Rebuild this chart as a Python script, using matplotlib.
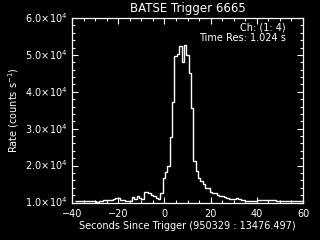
import numpy as np
import matplotlib
matplotlib.use("Agg")
import matplotlib.pyplot as plt
from matplotlib.ticker import MultipleLocator

# ---- data ----
title = "BATSE Trigger 6665"
xlabel = "Seconds Since Trigger (950329 : 13476.497)"
ylabel = r"Rate (counts s$^{-1}$)"
channel_text = "Ch: (1: 4)"
timeres_text = "Time Res: 1.024 s"

bin_start = -38.656   # left edge of first bin (s)
bin_width = 1.024     # s

rates = [
    # pre-trigger  (-38.7 .. -0.8 s)
    10450, 10450, 10450, 10450, 10450, 10450, 10450, 10450, 10450, 10250,
    10450, 10450, 10550, 10550, 10720, 10800, 10990, 11170, 11100, 10720,
    10720, 10540, 10540, 10540, 11440, 10900, 11800, 11350, 10900, 12800,
    12800, 12530, 11900, 11630, 11170, 10900, 12530,
    # main burst (-0.8 .. 12.5 s)
    16640, 18270, 19900, 27750, 37230, 49700, 50240, 52410, 48070, 52680,
    49970, 45090, 35610,
    # decay tail
    21300, 18580, 16770, 15870, 14970, 14060, 13800, 12980, 12710, 12440,
    12080, 11810, 11720, 11530, 11170, 11080, 10900, 10900, 11170, 10900,
    10720, 10720,
    # late background
    10450, 10400, 10400, 10350, 10350, 10650, 10650, 10600, 10650, 10650,
    10600, 10650, 10600, 10300, 10300, 10350, 10300, 10300, 10350, 10300,
    10300, 10350, 10300, 10300, 10300,
]

xlim = (-40, 60)
ylim = (1.0e4, 6.0e4)
xticks = [-40, -20, 0, 20, 40, 60]
yticks = [1.0e4, 2.0e4, 3.0e4, 4.0e4, 5.0e4, 6.0e4]
ytick_labels = [r"$1.0\!\times\!10^{4}$", r"$2.0\!\times\!10^{4}$",
                r"$3.0\!\times\!10^{4}$", r"$4.0\!\times\!10^{4}$",
                r"$5.0\!\times\!10^{4}$", r"$6.0\!\times\!10^{4}$"]

# ---- plot ----
fg = "white"
bg = "black"
fig = plt.figure(figsize=(3.2, 2.4), dpi=100, facecolor=bg)
ax = fig.add_axes([72/320, 1 - 202.5/240, 231/320, 184.5/240], facecolor=bg)

edges = bin_start + np.arange(len(rates) + 1) * bin_width
ax.stairs(rates, edges, color=fg, linewidth=1.0, baseline=None)

ax.set_xlim(*xlim)
ax.set_ylim(*ylim)
ax.set_xticks(xticks)
ax.set_xticklabels([str(v).replace("-", "\u2212") for v in xticks])
ax.set_yticks(yticks)
ax.set_yticklabels(ytick_labels)
ax.xaxis.set_minor_locator(MultipleLocator(5))
ax.yaxis.set_minor_locator(MultipleLocator(2000))

for s in ax.spines.values():
    s.set_color(fg)
    s.set_linewidth(0.9)
ax.tick_params(which="both", direction="in", top=True, right=True,
               colors=fg, labelsize=7, width=0.8)
ax.tick_params(which="major", length=4.5)
ax.tick_params(which="minor", length=2.2)
ax.tick_params(axis="x", which="major", pad=4.5)
ax.tick_params(axis="y", which="major", pad=3)
for lbl in ax.get_yticklabels():
    lbl.set_va("bottom")
    lbl.set_y(lbl.get_position()[1])
ax.set_yticklabels(ytick_labels, va="center")

ax.set_xlabel(xlabel, color=fg, fontsize=7, labelpad=1.5)
ax.set_ylabel(ylabel, color=fg, fontsize=7, labelpad=3)

fig.text(187.5/320, 1 - 8.5/240, title, color=fg, fontsize=8.5,
         ha="center", va="center")
ax.text(0.926, 1 - (27 - 18)/184.5, channel_text, transform=ax.transAxes,
        color=fg, fontsize=7, ha="right", va="center")
ax.text(0.926, 1 - (38 - 18)/184.5, timeres_text, transform=ax.transAxes,
        color=fg, fontsize=7, ha="right", va="center")

fig.savefig("out.png", dpi=100, facecolor=bg)
